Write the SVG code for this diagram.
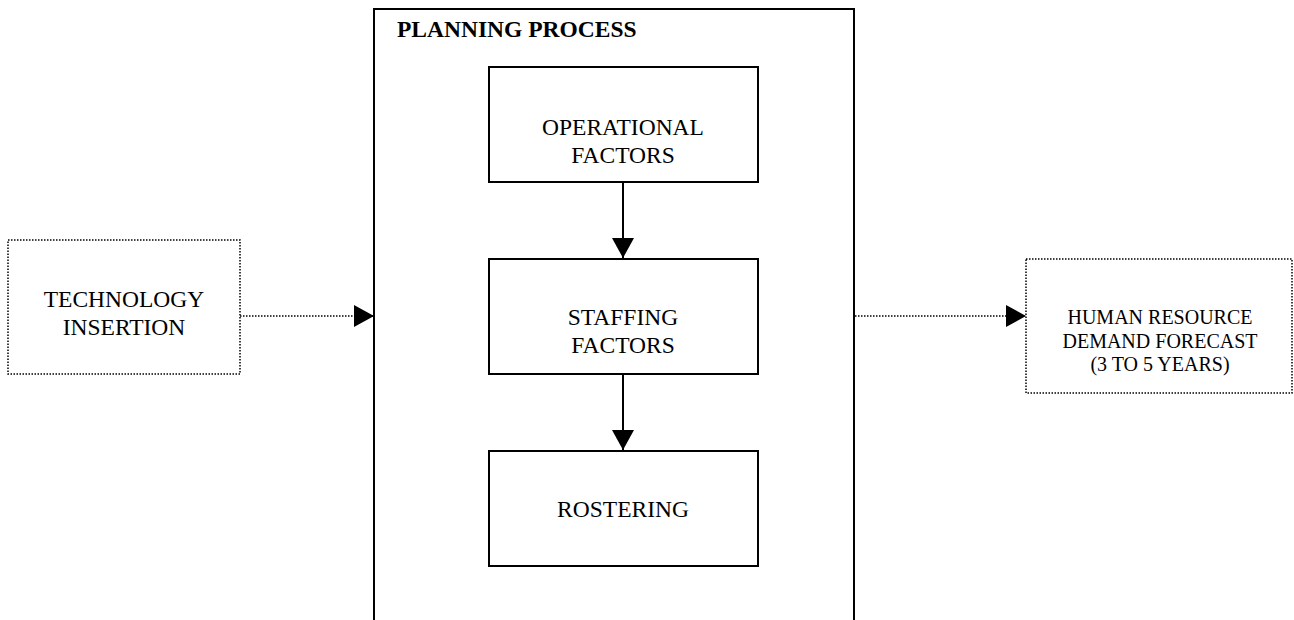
<svg xmlns="http://www.w3.org/2000/svg" width="1294" height="620" viewBox="0 0 1294 620">
<style>
  .solid { fill: #fff; stroke: #000; stroke-width: 2; }
  .dotted { fill: #fff; stroke: #000; stroke-width: 1.5; stroke-dasharray: 1.5 1.5; }
  .lbl { font-family: "Liberation Serif", "Times New Roman", serif; font-size: 23.5px; fill: #000; text-anchor: middle; }
  .lbl-sm { font-family: "Liberation Serif", "Times New Roman", serif; font-size: 20px; fill: #000; text-anchor: middle; }
  .title { font-family: "Liberation Serif", "Times New Roman", serif; font-size: 23.5px; font-weight: bold; fill: #000; }
  .conn { fill: none; stroke: #000; stroke-width: 2; }
  .conn-dot { fill: none; stroke: #000; stroke-width: 1.5; stroke-dasharray: 1.5 1.5; }
</style>
<defs>
  <marker id="arrow" markerUnits="userSpaceOnUse" markerWidth="20" markerHeight="22" refX="20" refY="11" orient="auto" viewBox="0 0 20 22">
    <polygon points="0,0 20,11 0,22" fill="#000"/>
  </marker>
</defs>
<rect width="1294" height="620" fill="#fff"/>

<g id="planning-process">
  <rect class="solid" x="374" y="9" width="480" height="630"/>
  <text class="title" x="397" y="37">PLANNING PROCESS</text>
</g>

<g id="operational-factors">
  <rect class="solid" x="489" y="67" width="269" height="115"/>
  <text class="lbl" x="623" y="135">OPERATIONAL</text>
  <text class="lbl" x="623" y="163">FACTORS</text>
</g>

<g id="staffing-factors">
  <rect class="solid" x="489" y="259" width="269" height="115"/>
  <text class="lbl" x="623" y="325">STAFFING</text>
  <text class="lbl" x="623" y="353">FACTORS</text>
</g>

<g id="rostering">
  <rect class="solid" x="489" y="451" width="269" height="115"/>
  <text class="lbl" x="623" y="517">ROSTERING</text>
</g>

<g id="technology-insertion">
  <rect class="dotted" x="8" y="240" width="232" height="134"/>
  <text class="lbl" x="124" y="307">TECHNOLOGY</text>
  <text class="lbl" x="124" y="335">INSERTION</text>
</g>

<g id="hr-demand-forecast">
  <rect class="dotted" x="1026" y="259" width="266" height="134"/>
  <text class="lbl-sm" x="1160" y="324">HUMAN RESOURCE</text>
  <text class="lbl-sm" x="1160" y="348">DEMAND FORECAST</text>
  <text class="lbl-sm" x="1160" y="371">(3 TO 5 YEARS)</text>
</g>

<g id="connectors">
  <line class="conn" x1="623" y1="182" x2="623" y2="258" marker-end="url(#arrow)"/>
  <line class="conn" x1="623" y1="374" x2="623" y2="450" marker-end="url(#arrow)"/>
  <line class="conn-dot" x1="240" y1="316" x2="374" y2="316" marker-end="url(#arrow)"/>
  <line class="conn-dot" x1="855" y1="316" x2="1026" y2="316" marker-end="url(#arrow)"/>
</g>
</svg>
